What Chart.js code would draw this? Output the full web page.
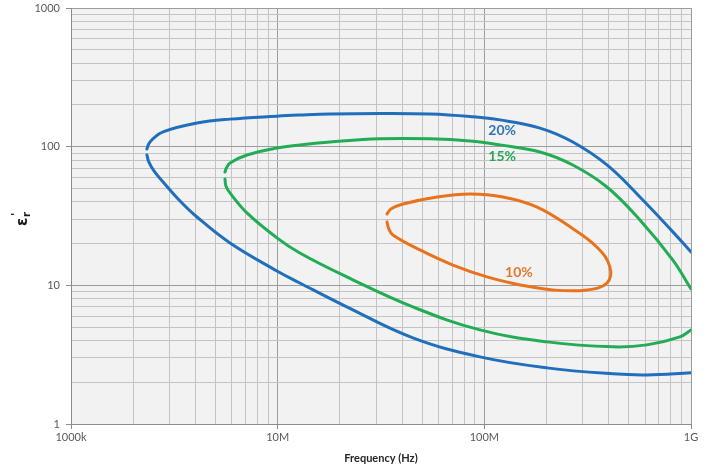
<!DOCTYPE html>
<html><head><meta charset="utf-8">
<script src="https://cdn.jsdelivr.net/npm/chart.js@4/dist/chart.umd.min.js"></script>
<style>html,body{margin:0;padding:0;background:#fff}#wrap{width:712px;height:471px}</style>
</head><body><div id="wrap"><canvas id="c" width="712" height="471"></canvas></div>
<script>
// ---- data ----
// 20% contour, upper branch (right -> left) and lower branch (left -> right)
const blueUpperFreq = [1e9, 8.17e8, 5.66e8, 3.92e8, 2.68e8, 1.86e8, 1.19e8, 8.52e7, 5.46e7, 3.13e7, 1.79e7, 1.28e7, 9.92e6, 5.88e6, 4.07e6, 2.79e6, 2.49e6, 2.38e6, 2.33e6];
const blueUpperEps  = [17.4, 24.3, 43.4, 73.8, 108, 136, 156, 165, 172, 173.5, 172, 169, 166, 158, 148, 128, 114, 105, 96.2];
const blueLowerFreq = [2.33e6, 2.38e6, 2.52e6, 2.79e6, 3.37e6, 4.07e6, 5.88e6, 9.92e6, 1.28e7, 2.16e7, 4.51e7, 9.52e7, 2.01e8, 4.19e8, 6.12e8, 1e9];
const blueLowerEps  = [87.1, 77.6, 66.8, 55.7, 40.6, 31.1, 20.2, 12.7, 10.4, 6.99, 4.18, 3.05, 2.54, 2.30, 2.26, 2.34];
// 15% contour
const greenUpperFreq = [1e9, 8.17e8, 5.66e8, 3.92e8, 2.68e8, 1.86e8, 1.19e8, 8.52e7, 5.46e7, 3.13e7, 1.79e7, 1.28e7, 9.92e6, 7.10e6, 5.88e6, 5.65e6, 5.56e6];
const greenUpperEps  = [9.42, 15.2, 29.6, 51.2, 73.8, 91.6, 103, 110, 114, 114, 108, 103, 97.9, 87.1, 76.3, 70.2, 65.7];
const greenLowerFreq = [5.56e6, 5.62e6, 5.88e6, 7.10e6, 9.92e6, 1.28e7, 2.16e7, 4.51e7, 9.52e7, 2.01e8, 4.19e8, 6.12e8, 8.84e8, 1e9];
const greenLowerEps  = [58.5, 52.1, 46.4, 33.3, 22.0, 17.1, 11.5, 6.99, 4.77, 3.91, 3.60, 3.72, 4.25, 4.77];
// 10% contour (closed loop, clockwise from the left)
const orangeFreq = [3.38e7, 3.53e7, 4.04e7, 5.90e7, 8.52e7, 1.23e8, 1.80e8, 2.60e8, 3.50e8, 4.05e8, 3.92e8, 3.14e8, 2.15e8, 1.49e8, 1.03e8, 7.05e7, 4.88e7, 3.61e7, 3.45e7, 3.38e7];
const orangeEps  = [32.7, 35.5, 38.6, 43.4, 45.6, 43.4, 36.7, 26.4, 18.9, 13.6, 10.4, 9.26, 9.26, 10.07, 11.5, 14.0, 18.0, 23.1, 25.5, 28.7];
// contour labels
const contourLabels = ['20%', '15%', '10%'];
const contourLabelFreq = [1.22e8, 1.22e8, 1.47e8];
const contourLabelEps = [130, 84.3, 12.3];
const contourColors = ['#1f6fbd', '#22ad55', '#e8731c'];
const labelColors = ['#2e75b6', '#2aa55a', '#e07a2c'];
// axes
const xMajorTicks = [1e6, 1e7, 1e8, 1e9];
const xTickLabels = ['1000k', '10M', '100M', '1G'];
const yMajorTicks = [1, 10, 100, 1000];
const yTickLabels = ['1', '10', '100', '1000'];
const xTitle = 'Frequency (Hz)';

function pts(fs, es) { return fs.map((f, i) => ({x: f, y: es[i]})); }
function logTicks(majors) {
  const out = [];
  for (let i = 0; i < majors.length - 1; i++) for (let m = 1; m <= 9; m++) out.push(m * majors[i]);
  out.push(majors[majors.length - 1]);
  return out;
}
const xTicks = logTicks(xMajorTicks), yTicks = logTicks(yMajorTicks);
function isMajor(v, majors) { return majors.some(m => Math.abs(v / m - 1) < 1e-9); }
function lbl(v, majors, labels) { const i = majors.findIndex(m => Math.abs(v / m - 1) < 1e-9); return i >= 0 ? labels[i] : ''; }

function ds(data, color) {
  return {data, borderColor: color, backgroundColor: color, borderWidth: 3, showLine: true, pointRadius: 0, pointHoverRadius: 0, tension: 0.4, fill: false, borderCapStyle: 'round', borderJoinStyle: 'round'};
}

const bgPlugin = {
  id: 'bg',
  beforeDraw(chart) {
    const {ctx, chartArea: a} = chart;
    ctx.save(); ctx.fillStyle = '#f2f2f2'; ctx.fillRect(a.left, a.top, a.right - a.left, a.bottom - a.top); ctx.restore();
  },
  afterDatasetsDraw(chart) {
    const {ctx} = chart; const sx = chart.scales.x, sy = chart.scales.y;
    ctx.save();
    ctx.font = 'bold 14px Lato, "Open Sans", sans-serif';
    ctx.textAlign = 'center'; ctx.textBaseline = 'middle';
    contourLabels.forEach((t, i) => {
      ctx.fillStyle = labelColors[i];
      ctx.fillText(t, sx.getPixelForValue(contourLabelFreq[i]), sy.getPixelForValue(contourLabelEps[i]));
    });
    ctx.restore();
    // y-axis title: epsilon r prime
    ctx.save();
    ctx.translate(27, 226); ctx.rotate(-Math.PI / 2);
    ctx.fillStyle = '#1a1a1a'; ctx.textAlign = 'left'; ctx.textBaseline = 'alphabetic';
    ctx.font = 'bold 15px "DejaVu Sans", sans-serif';
    ctx.fillText('ε', 0, 0);
    ctx.font = 'bold 10px "DejaVu Sans", sans-serif';
    ctx.fillText('r', 9, 3);
    ctx.font = 'bold 11px "DejaVu Sans", sans-serif';
    ctx.fillText("'", 10, -8);
    ctx.restore();
  }
};

Chart.defaults.font.family = 'Lato, "Open Sans", sans-serif';
new Chart(document.getElementById('c'), {
  type: 'scatter',
  data: {datasets: [
    ds(pts(blueUpperFreq, blueUpperEps), contourColors[0]),
    ds(pts(blueLowerFreq, blueLowerEps), contourColors[0]),
    ds(pts(greenUpperFreq, greenUpperEps), contourColors[1]),
    ds(pts(greenLowerFreq, greenLowerEps), contourColors[1]),
    ds(pts(orangeFreq, orangeEps), contourColors[2])
  ]},
  options: {
    responsive: false, animation: false, devicePixelRatio: 1,
    layout: {padding: {left: 0, top: 8, right: 21, bottom: 0}},
    plugins: {legend: {display: false}, tooltip: {enabled: false}},
    scales: {
      x: {
        type: 'logarithmic', min: 1e6, max: 1e9,
        afterBuildTicks: s => { s.ticks = xTicks.map(v => ({value: v, major: isMajor(v, xMajorTicks)})); },
        afterFit: s => { s.height = 47; s.paddingLeft = 0; s.paddingRight = 0; },
        ticks: {autoSkip: false, maxRotation: 0, padding: 2, color: '#595959', font: {size: 11},
          callback: v => lbl(v, xMajorTicks, xTickLabels)},
        grid: {color: c => isMajor(c.tick.value, xMajorTicks) ? '#9c9c9c' : '#c4c4c4', lineWidth: 1, tickLength: 5,
          tickColor: c => isMajor(c.tick.value, xMajorTicks) ? '#8c8c8c' : 'rgba(0,0,0,0)'},
        border: {color: '#8c8c8c'},
        title: {display: true, text: xTitle, color: '#262626', font: {size: 11, weight: 'bold'}, padding: {top: 0, bottom: 6}}
      },
      y: {
        type: 'logarithmic', min: 1, max: 1000,
        afterBuildTicks: s => { s.ticks = yTicks.map(v => ({value: v, major: isMajor(v, yMajorTicks)})); },
        afterFit: s => { s.width = 71; s.paddingTop = 0; s.paddingBottom = 0; },
        ticks: {autoSkip: false, padding: 6, color: '#595959', font: {size: 11},
          callback: v => lbl(v, yMajorTicks, yTickLabels)},
        grid: {color: c => isMajor(c.tick.value, yMajorTicks) ? '#9c9c9c' : '#c4c4c4', lineWidth: 1, tickLength: 5,
          tickColor: c => isMajor(c.tick.value, yMajorTicks) ? '#8c8c8c' : 'rgba(0,0,0,0)'},
        border: {color: '#8c8c8c'}
      }
    }
  },
  plugins: [bgPlugin]
});
</script></body></html>
